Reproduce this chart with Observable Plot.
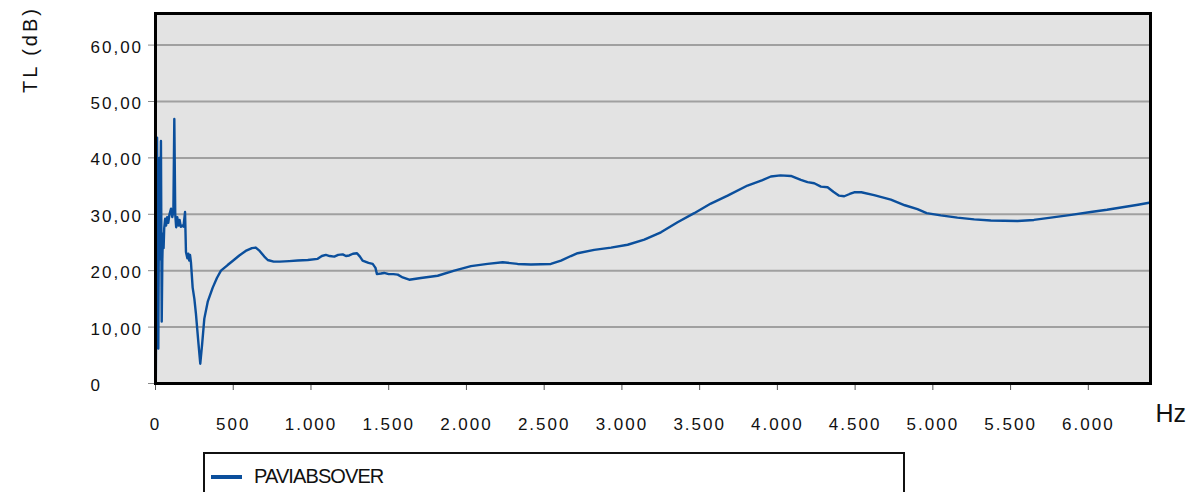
<!DOCTYPE html>
<html>
<head>
<meta charset="utf-8">
<script src="https://cdn.jsdelivr.net/npm/d3@7"></script>
<script src="https://cdn.jsdelivr.net/npm/@observablehq/plot@0.6"></script>
<style>
  html, body { margin: 0; padding: 0; background: white; }
  #wrap { position: relative; width: 1193px; height: 492px; overflow: hidden; font-family: "Liberation Sans", Arial, sans-serif; }
  #chart svg text { letter-spacing: 2px; }
  #legend { position: absolute; left: 203px; top: 452px; width: 702px; height: 60px; border: 2px solid #111; box-sizing: border-box; background: white; }
  #legend .sw { position: absolute; left: 6px; top: 21px; width: 31px; height: 4px; background: #0b4f9c; }
  #legend .lt { position: absolute; left: 49px; top: 11px; font-size: 20px; color: #111; letter-spacing: -0.9px; }
</style>
</head>
<body>
<div id="wrap">
  <div id="chart"></div>
  <div id="legend"><div class="sw"></div><div class="lt"></div></div>
</div>
<script>
const seriesName = "PAVIABSOVER";
const freqs = [2,10,14,18,22,25,28,32,35,40,44,48,52,56,62,68,75,82,90,100,108,115,121,127,133,140,148,155,163,172,180,190,196,205,211,217,222,228,239,250,260,275,288,300,314,336,368,395,421,464,500,539,580,620,645,670,700,722,760,800,860,914,980,1043,1070,1096,1120,1150,1175,1204,1225,1246,1270,1296,1315,1332,1370,1397,1415,1424,1450,1471,1500,1530,1558,1590,1632,1707,1815,1922,2029,2136,2233,2329,2415,2543,2608,2672,2715,2822,2930,3037,3144,3251,3358,3465,3572,3680,3808,3900,3958,4020,4087,4151,4194,4237,4280,4323,4360,4397,4430,4465,4494,4540,4622,4730,4820,4901,4960,5051,5158,5266,5373,5545,5650,5759,5890,6016,6120,6230,6320,6400];
const tl = [0.3,43.6,20,6.2,30,40,22,35,43,11,22,26.6,24,27.5,29.2,28,29.5,28.5,30,31,29.5,30.5,46.9,30,27.7,29.5,28,29,27.8,28,27.8,30.4,23.3,22.2,23,21.8,22.8,21.5,17,15,12.4,7.5,3.5,7,11.5,14.5,17,18.7,20,21,21.8,22.7,23.5,24,24.1,23.5,22.5,21.9,21.6,21.6,21.7,21.8,21.9,22.1,22.6,22.8,22.6,22.5,22.8,22.9,22.6,22.7,23.0,23.1,22.5,21.8,21.4,21.2,20.5,19.4,19.5,19.6,19.4,19.4,19.3,18.8,18.4,18.7,19.1,20,20.8,21.2,21.5,21.2,21.1,21.2,21.8,22.6,23.1,23.7,24.1,24.6,25.5,26.8,28.6,30.2,31.9,33.3,35.1,36.0,36.7,36.9,36.8,36.1,35.7,35.5,34.9,34.8,34.0,33.3,33.2,33.6,33.9,33.9,33.4,32.6,31.6,30.9,30.2,29.8,29.4,29.1,28.9,28.8,29.0,29.4,29.9,30.4,30.8,31.3,31.7,32.1];
const xTicks = [0,500,1000,1500,2000,2500,3000,3500,4000,4500,5000,5500,6000];
const yTicks = [0,10,20,30,40,50,60];
const yGrid = [10,20,30,40,50,60];
const yLabel = "TL (dB)";
const xLabel = "Hz";

const data = freqs.map((f, i) => ({f, v: tl[i]}));
const loc = d3.formatLocale({decimal: ",", thousands: ".", grouping: [3], currency: ["", ""]});
const fx = loc.format(",d");
const fy = d => d === 0 ? "0" : loc.format(",.2f")(d);

document.querySelector("#legend .lt").textContent = seriesName;

const chart = Plot.plot({
  width: 1193,
  height: 492,
  marginLeft: 155,
  marginRight: 43,
  marginTop: 13,
  marginBottom: 109,
  style: {fontFamily: "Liberation Sans, Arial, sans-serif", fontSize: "17px", color: "#111", background: "white"},
  x: {domain: [0, 6400]},
  y: {domain: [0, 65.6]},
  marks: [
    Plot.frame({fill: "#e3e3e3"}),
    Plot.gridY(yGrid, {stroke: "#a0a0a0", strokeOpacity: 1, strokeWidth: 2}),
    Plot.axisY(yTicks, {tickSize: 7, tickFormat: () => "", stroke: "#888", label: null}),
    Plot.text(yTicks, {y: d => d, text: fy, frameAnchor: "left", dx: -65, dy: 2, textAnchor: "start", fontSize: 17, fill: "#111"}),
    Plot.axisX(xTicks, {tickSize: 7, tickPadding: 27, tickFormat: fx, fontSize: 17, stroke: "#555", label: null}),
    Plot.line(data, {x: "f", y: "v", stroke: "#0b4f9c", strokeWidth: 2.4, curve: "linear"}),
    Plot.frame({stroke: "#000", strokeWidth: 3}),
    Plot.text([yLabel], {frameAnchor: "top-left", dx: -133, dy: 36, rotate: -90, fontSize: 20, textAnchor: "middle", fill: "#111"}),
    Plot.text([xLabel], {frameAnchor: "bottom-right", dx: 5, dy: 38, fontSize: 25, textAnchor: "start", fill: "#111"})
  ]
});
d3.select(chart).selectAll("text").filter(function() { return this.textContent === yLabel; }).style("letter-spacing", "3px");
d3.select(chart).selectAll("text").filter(function() { return this.textContent === xLabel; }).style("letter-spacing", "0px");
document.getElementById("chart").appendChild(chart);
</script>
</body>
</html>
